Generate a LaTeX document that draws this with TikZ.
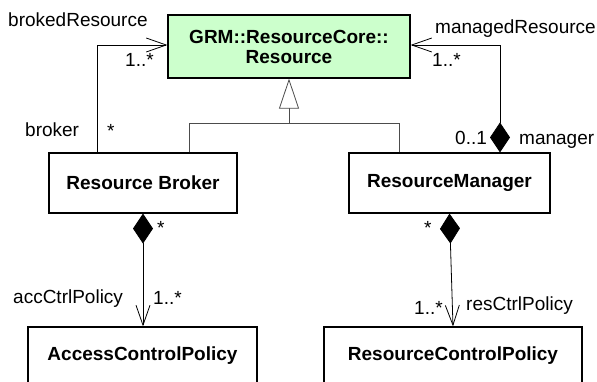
\documentclass[tikz,border=0pt]{standalone}
\usepackage{fontspec}
\setmainfont{Liberation Sans}
\usetikzlibrary{arrows.meta}
\definecolor{grmgreen}{RGB}{204,255,204}
\begin{document}
\begin{tikzpicture}[x=1pt,y=-1pt,
  font=\fontsize{19}{20}\selectfont,
  box/.style={draw,line width=1.2pt,inner sep=0pt,font=\fontsize{19}{20}\selectfont\bfseries},
  lbl/.style={inner sep=0pt,anchor=base west},
  assoc/.style={line width=0.8pt},
  barb/.style={-{Straight Barb[length=20pt,width=14pt,line width=0.8pt]}},
  comp/.style={{Diamond[length=30pt,width=20pt,fill=black]}-{Straight Barb[length=20pt,width=14pt,line width=0.8pt]}},
  genl/.style={line width=0.8pt,draw=black!70}
]
\useasboundingbox (0,0) rectangle (597,382);

% classes
\node[box,fill=grmgreen,minimum width=242pt,minimum height=63pt,align=center] (grm) at (289,46.5) {GRM::ResourceCore::\\Resource};
\node[box,minimum width=188pt,minimum height=60pt] (rb) at (143,183) {Resource Broker};
\node[box,minimum width=201pt,minimum height=60pt] (rm) at (449.5,183) {ResourceManager};
\node[box,minimum width=229pt,minimum height=58pt] (acp) at (142.5,356) {AccessControlPolicy};
\node[box,minimum width=258pt,minimum height=58pt] (rcp) at (453,356) {ResourceControlPolicy};

% generalization
\coordinate (hub) at (289,123);
\coordinate (gl) at (189,123);
\coordinate (gr) at (399,123);
\draw[genl] (gl |- rb.north) -- (gl) -- (gr) -- (gr |- rm.north);
\draw[genl,-{Triangle[open,length=30pt,width=20pt,fill=white]}] (hub) -- (grm.south);

% associations
\coordinate (bk) at (97,45);
\draw[assoc,barb] (bk |- rb.north) -- (bk) -- (bk -| grm.west);
\coordinate (mk) at (500,45);
\draw[assoc,comp] (mk |- rm.north) -- (mk) -- (mk -| grm.east);
\draw[assoc,comp] (rb.south) -- (rb.south |- acp.north);
\draw[assoc,comp] (rm.south) -- (rcp.north);

% labels
\node[lbl] (l1) at (8,27) {brokedResource};
\node[lbl] (l2) at (125,67) {1..*};
\node[lbl] (l3) at (25,137) {broker};
\node[lbl] (l4) at (107,138) {*};
\node[lbl] (l5) at (435,34) {managedResource};
\node[lbl] (l6) at (432,67) {1..*};
\node[lbl] (l7) at (455,145) {0..1};
\node[lbl] (l8) at (519,145) {manager};
\node[lbl] (l9) at (157,234) {*};
\node[lbl] (l10) at (13,303) {accCtrlPolicy};
\node[lbl] (l11) at (153,304) {1..*};
\node[lbl] (l12) at (424,235) {*};
\node[lbl] (l13) at (414,314) {1..*};
\node[lbl] (l14) at (466,310) {resCtrlPolicy};
\end{tikzpicture}
\end{document}
